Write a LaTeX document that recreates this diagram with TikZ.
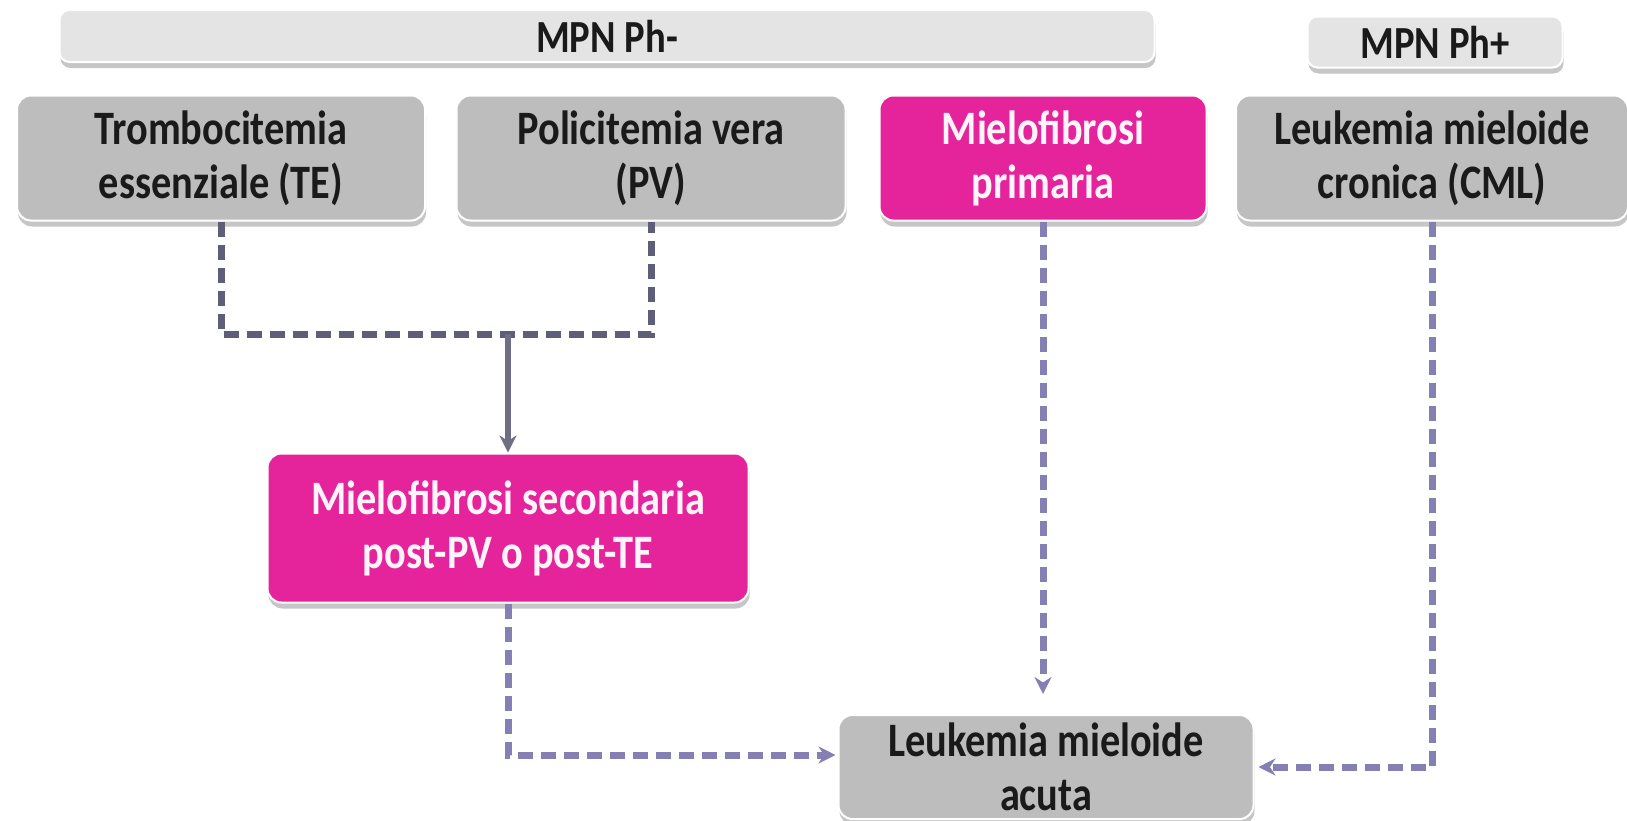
\documentclass[tikz,border=0pt]{standalone}
\usepackage{fontspec}
\setmainfont{Carlito}
\newfontfamily\boxfont[FakeStretch=0.84]{Carlito}
\usetikzlibrary{shadows,arrows.meta}
\definecolor{boxgray}{HTML}{BDBDBD}
\definecolor{headgray}{HTML}{E4E4E4}
\definecolor{magentabox}{HTML}{E5239A}
\definecolor{linetop}{HTML}{5E5E78}
\definecolor{linelow}{HTML}{8580B3}
\definecolor{txtdark}{HTML}{1A1A1A}
\tikzset{
  basebox/.style={rounded corners=14pt, draw=white, line width=2pt, align=center, inner sep=0pt,
    font=\boxfont\bfseries\fontsize{48}{54}\selectfont,
    drop shadow={opacity=0.45, shadow xshift=1pt, shadow yshift=-6pt}},
  graybox/.style={basebox, fill=boxgray, text=txtdark},
  pinkbox/.style={basebox, fill=magentabox, text=white!95!magentabox},
  headbox/.style={basebox, rounded corners=10pt, fill=headgray, text=txtdark, font=\boxfont\bfseries\fontsize{46}{50}\selectfont},
  dashtop/.style={draw=linetop, line width=7pt, dash pattern=on 15pt off 8pt},
  dashlow/.style={draw=linelow, line width=7pt, dash pattern=on 15pt off 8pt, -{Stealth[length=17pt,width=17pt]}},
  solidarrow/.style={draw=linetop!90!white, line width=5.5pt, -{Stealth[length=17pt,width=17pt]}}
}
\begin{document}
\begin{tikzpicture}[x=1pt,y=-1pt]
\useasboundingbox (0,0) rectangle (1627,820);
\node[headbox, minimum width=1095pt, minimum height=52pt] (phm) at (607,36) {MPN Ph-};
\node[headbox, minimum width=255pt, minimum height=51pt] (php) at (1435,42) {MPN Ph+};
\node[graybox, minimum width=408pt, minimum height=125pt] (te) at (221,158) {Trombocitemia\\essenziale (TE)};
\node[graybox, minimum width=389pt, minimum height=125pt] (pv) at (651,158) {Policitemia vera\\(PV)};
\node[pinkbox, minimum width=327pt, minimum height=125pt] (mp) at (1043,158) {Mielofibrosi\\primaria};
\node[graybox, minimum width=392pt, minimum height=125pt] (cml) at (1432,158) {Leukemia mieloide\\cronica (CML)};
\node[pinkbox, minimum width=481pt, minimum height=149pt] (ms) at (508,528) {Mielofibrosi secondaria\\post-PV o post-TE};
\node[graybox, minimum width=415pt, minimum height=104pt] (aml) at (1046,767) {Leukemia mieloide\\acuta};
\coordinate (j) at (508,334);
\coordinate (mpend) at (1044,694);
\draw[dashtop] (te.south) -- (te.south |- j) -- (pv.south |- j) -- (pv.south);
\draw[solidarrow] (j) -- (ms.north);
\draw[dashlow] (ms.south) |- ([yshift=12pt, xshift=-2pt]aml.west);
\draw[dashlow] (mp.south) -- (mp.south |- mpend);
\draw[dashlow] (cml.south) |- ([xshift=4pt]aml.east);
\end{tikzpicture}
\end{document}
